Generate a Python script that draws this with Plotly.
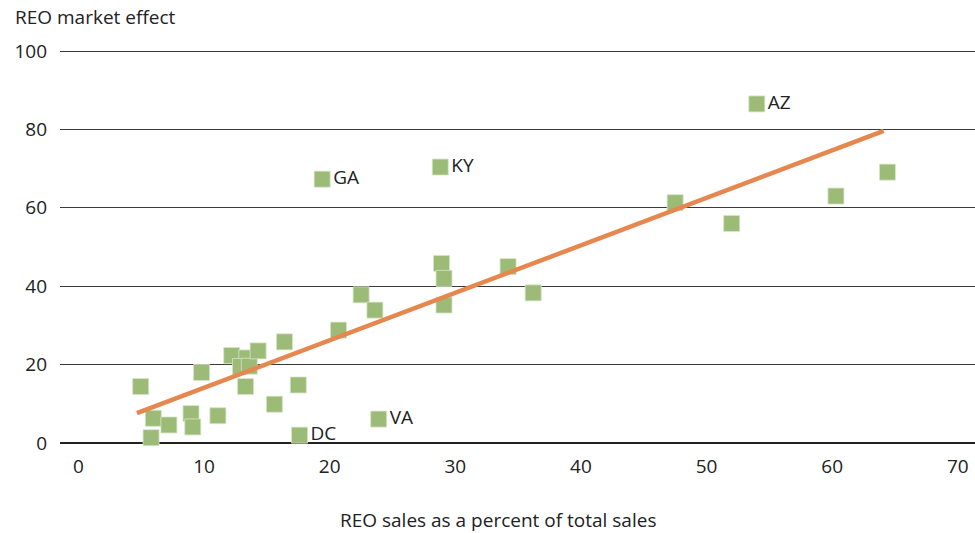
import plotly.graph_objects as go

# REO sales as a percent of total sales
reo_share = [4.95, 5.96, 5.78, 7.2, 8.96, 9.1, 11.1, 9.8, 12.2, 13.4, 12.9, 13.6,
             14.3, 13.3, 15.6, 16.4, 17.5, 17.6, 20.7, 19.4, 22.5, 23.6, 23.9,
             28.8, 28.9, 29.1, 29.1, 34.2, 36.2, 47.5, 52.0, 54.0, 60.3, 64.4]
# REO market effect
market_effect = [14.4, 6.3, 1.35, 4.6, 7.5, 4.1, 6.96, 18.0, 22.3, 21.7, 19.5, 19.6,
                 23.5, 14.4, 9.9, 25.8, 14.8, 2.0, 28.8, 67.3, 37.8, 33.9, 6.1,
                 70.4, 45.8, 42.0, 35.2, 45.0, 38.3, 61.3, 56.0, 86.5, 63.0, 69.1]
point_labels = ["", "", "", "", "", "", "", "", "", "", "", "",
                "", "", "", "", "", "DC", "", "GA", "", "", "VA",
                "KY", "", "", "", "", "", "", "", "AZ", "", ""]

# Linear trend line
trend_slope = 1.211
trend_intercept = 1.98

x_ticks = [0, 10, 20, 30, 40, 50, 60, 70]
y_ticks = [0, 20, 40, 60, 80, 100]

trend_x = [min(reo_share) - 0.3, max(reo_share) - 0.3]
trend_y = [trend_intercept + trend_slope * v for v in trend_x]

FONT = "Open Sans"
TXT = "#222222"
FS = 19

fig = go.Figure()
fig.add_trace(go.Scatter(
    x=reo_share, y=market_effect, mode="markers+text",
    text=point_labels, textposition="middle right",
    textfont=dict(family=FONT, size=FS, color=TXT),
    marker=dict(symbol="square", size=16, color="#9BBB77",
                line=dict(width=0.8, color="#D6E5C8")),
    cliponaxis=False, showlegend=False, hoverinfo="x+y",
))
fig.add_trace(go.Scatter(
    x=trend_x, y=trend_y, mode="lines",
    line=dict(color="#E5874E", width=4.5),
    showlegend=False, hoverinfo="skip",
))

fig.update_layout(
    width=975, height=533,
    margin=dict(l=60, r=0, t=47, b=90),
    paper_bgcolor="white", plot_bgcolor="white",
    font=dict(family=FONT, size=FS, color=TXT),
    xaxis=dict(range=[-1.47, 71.37], tickvals=x_ticks, showgrid=False,
               zeroline=False, showline=False, ticks="",
               ticklabelstandoff=10, tickfont=dict(size=FS, color=TXT)),
    yaxis=dict(range=[0, 101.02], tickvals=y_ticks, showgrid=True,
               gridcolor="#3a3a3a", gridwidth=1, zeroline=True,
               zerolinecolor="#222222", zerolinewidth=1.5, showline=False,
               ticks="", ticklabelstandoff=12, tickfont=dict(size=FS, color=TXT)),
    annotations=[
        dict(text="REO market effect", xref="paper", yref="paper",
             x=-0.0514, y=1.0758, xanchor="left", yanchor="middle",
             showarrow=False, font=dict(size=FS, color=TXT)),
        dict(text="REO sales as a percent of total sales", xref="paper", yref="paper",
             x=0.479, y=-0.1944, xanchor="center", yanchor="middle",
             showarrow=False, font=dict(size=FS, color=TXT)),
    ],
)

fig.write_html("out.html", config={"displayModeBar": False},
               post_script="document.body.style.margin='0';")
